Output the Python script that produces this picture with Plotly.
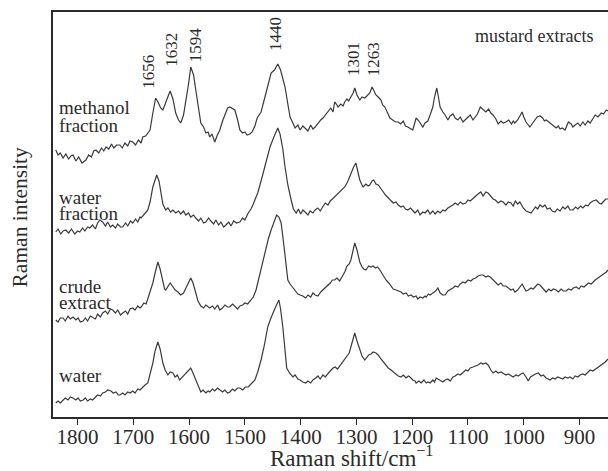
import plotly.graph_objects as go

# ---- data (wavenumber / cm^-1, offset intensity a.u.) ----
methanol_x = [1839, 1835, 1831, 1826, 1821, 1816, 1812, 1808, 1803, 1798, 1792, 1785, 1780, 1775, 1771, 1767,
              1762, 1757, 1753, 1749, 1744, 1739, 1735, 1730, 1724, 1720, 1715, 1710, 1706, 1701, 1696, 1691,
              1686, 1683, 1678, 1674, 1670, 1665, 1660, 1655, 1651, 1647, 1641, 1634, 1629, 1624, 1619, 1615,
              1610, 1606, 1601, 1597, 1592, 1588, 1583, 1579, 1574, 1570, 1566, 1563, 1559, 1554, 1550, 1545,
              1540, 1536, 1531, 1527, 1522, 1518, 1513, 1509, 1504, 1500, 1496, 1491, 1487, 1482, 1478, 1471,
              1464, 1458, 1453, 1447, 1441, 1436, 1432, 1428, 1423, 1419, 1414, 1410, 1405, 1401, 1396, 1392,
              1387, 1382, 1378, 1374, 1369, 1364, 1360, 1355, 1351, 1346, 1342, 1339, 1336, 1333, 1328, 1324,
              1321, 1317, 1314, 1310, 1306, 1303, 1299, 1294, 1290, 1285, 1281, 1276, 1272, 1268, 1265, 1261,
              1256, 1253, 1249, 1244, 1240, 1235, 1230, 1225, 1221, 1216, 1212, 1208, 1203, 1199, 1196, 1193,
              1188, 1184, 1181, 1177, 1172, 1168, 1163, 1160, 1156, 1153, 1150, 1145, 1141, 1136, 1132, 1127,
              1123, 1118, 1114, 1109, 1105, 1100, 1096, 1091, 1087, 1083, 1078, 1073, 1068, 1063, 1059, 1055,
              1050, 1046, 1041, 1037, 1032, 1027, 1022, 1019, 1016, 1011, 1007, 1003, 1000, 996, 992, 989,
              984, 980, 976, 971, 966, 963, 960, 955, 951, 947, 942, 938, 935, 931, 926, 923,
              920, 915, 912, 908, 903, 899, 894, 890, 885, 881, 876, 872, 867, 861, 857, 852, 849]
methanol_y = [267, 262, 264, 259, 263, 258, 261, 262, 256, 260, 254, 257, 262, 260, 266, 267,
              264, 269, 266, 270, 268, 273, 269, 272, 272, 269, 274, 271, 276, 275, 272, 277,
              274, 280, 281, 284, 287, 304, 319, 314, 309, 307, 316, 326, 318, 304, 297, 294,
              302, 314, 333, 350, 342, 327, 308, 294, 290, 284, 285, 280, 283, 275, 281, 287,
              296, 302, 309, 310, 308, 307, 297, 287, 284, 285, 282, 283, 285, 291, 299, 305,
              320, 334, 344, 347, 353, 347, 338, 330, 313, 300, 294, 289, 292, 287, 291, 289,
              286, 292, 288, 290, 294, 297, 299, 303, 305, 309, 305, 315, 313, 310, 313, 311,
              315, 318, 316, 320, 324, 329, 322, 317, 320, 319, 321, 324, 330, 325, 322, 320,
              317, 312, 310, 304, 299, 297, 295, 295, 293, 296, 291, 290, 288, 287, 293, 299,
              296, 292, 290, 294, 296, 302, 310, 320, 329, 320, 310, 305, 302, 297, 301, 303,
              299, 297, 300, 295, 297, 299, 302, 297, 300, 303, 310, 307, 305, 308, 304, 302,
              298, 293, 296, 294, 295, 297, 293, 296, 294, 297, 301, 305, 300, 295, 292, 290,
              294, 297, 300, 301, 299, 296, 297, 295, 293, 291, 289, 291, 288, 289, 287, 291,
              295, 293, 290, 292, 294, 291, 295, 292, 296, 294, 298, 302, 300, 304, 303, 307, 306]

waterfrac_x = [1839, 1835, 1830, 1826, 1821, 1816, 1811, 1805, 1800, 1796, 1791, 1787, 1782, 1778, 1773, 1768,
               1764, 1760, 1755, 1750, 1746, 1741, 1737, 1732, 1728, 1723, 1719, 1714, 1710, 1705, 1701, 1696,
               1692, 1688, 1686, 1681, 1677, 1674, 1670, 1665, 1661, 1658, 1654, 1651, 1647, 1642, 1638, 1633,
               1629, 1624, 1619, 1615, 1610, 1606, 1601, 1597, 1592, 1588, 1583, 1579, 1574, 1570, 1565, 1561,
               1556, 1552, 1547, 1543, 1538, 1534, 1529, 1525, 1520, 1515, 1509, 1504, 1500, 1494, 1489, 1485,
               1481, 1477, 1470, 1464, 1459, 1455, 1448, 1441, 1437, 1432, 1428, 1423, 1417, 1413, 1408, 1404,
               1400, 1396, 1392, 1387, 1383, 1378, 1374, 1369, 1365, 1360, 1356, 1351, 1347, 1343, 1339, 1334,
               1330, 1325, 1321, 1316, 1313, 1310, 1305, 1301, 1298, 1294, 1290, 1288, 1283, 1279, 1276, 1272,
               1269, 1265, 1261, 1258, 1253, 1248, 1243, 1238, 1234, 1229, 1225, 1220, 1216, 1212, 1208, 1203,
               1199, 1195, 1190, 1186, 1181, 1177, 1172, 1168, 1163, 1159, 1154, 1150, 1145, 1141, 1136, 1132,
               1127, 1123, 1118, 1114, 1109, 1104, 1100, 1096, 1091, 1086, 1082, 1077, 1073, 1068, 1064, 1059,
               1055, 1051, 1046, 1041, 1037, 1032, 1028, 1023, 1019, 1015, 1011, 1007, 1004, 1001, 996, 991,
               987, 983, 979, 975, 971, 966, 962, 958, 953, 949, 944, 940, 935, 930, 926, 921,
               917, 912, 907, 903, 898, 894, 889, 885, 881, 876, 870, 865, 861, 858, 853, 849]
waterfrac_y = [185, 188, 183, 186, 187, 184, 188, 183, 186, 185, 189, 186, 190, 189, 192, 188,
               194, 197, 195, 191, 195, 190, 192, 189, 193, 190, 190, 194, 191, 196, 194, 198,
               195, 200, 199, 203, 205, 207, 215, 230, 238, 242, 236, 224, 213, 207, 209, 205,
               207, 204, 206, 203, 206, 202, 204, 200, 202, 199, 196, 199, 194, 195, 199, 196,
               193, 197, 192, 195, 190, 192, 195, 191, 196, 194, 195, 199, 197, 204, 208, 213,
               218, 224, 238, 250, 262, 270, 280, 289, 283, 268, 250, 232, 217, 208, 204, 208,
               203, 207, 205, 202, 206, 204, 207, 209, 206, 210, 214, 212, 216, 218, 220, 223,
               225, 228, 230, 235, 239, 244, 250, 254, 247, 237, 232, 230, 233, 231, 232, 236,
               237, 233, 232, 230, 226, 222, 219, 217, 214, 215, 212, 210, 211, 208, 207, 209,
               206, 204, 207, 202, 205, 204, 207, 203, 206, 203, 206, 204, 207, 206, 209, 210,
               212, 214, 212, 215, 213, 214, 217, 216, 219, 221, 223, 225, 221, 225, 224, 220,
               218, 217, 214, 216, 215, 212, 215, 214, 211, 216, 213, 215, 212, 209, 206, 205,
               204, 207, 210, 208, 212, 210, 212, 208, 209, 206, 205, 208, 206, 210, 208, 211,
               207, 207, 210, 208, 211, 209, 212, 211, 214, 216, 217, 214, 213, 215, 218, 218]

crude_x = [1839, 1835, 1831, 1826, 1822, 1817, 1813, 1808, 1803, 1799, 1795, 1790, 1786, 1782, 1777, 1773,
           1768, 1764, 1759, 1755, 1750, 1746, 1741, 1737, 1732, 1728, 1723, 1719, 1714, 1710, 1706, 1701,
           1697, 1692, 1688, 1686, 1681, 1677, 1674, 1670, 1665, 1661, 1656, 1652, 1649, 1647, 1644, 1642,
           1638, 1634, 1630, 1625, 1620, 1615, 1610, 1606, 1601, 1597, 1593, 1588, 1584, 1579, 1574, 1570,
           1566, 1563, 1558, 1554, 1549, 1545, 1540, 1536, 1531, 1527, 1522, 1518, 1513, 1509, 1504, 1500,
           1495, 1489, 1485, 1480, 1476, 1471, 1467, 1462, 1458, 1453, 1448, 1443, 1439, 1435, 1431, 1428,
           1423, 1419, 1414, 1409, 1405, 1401, 1396, 1391, 1387, 1382, 1378, 1374, 1369, 1364, 1360, 1356,
           1351, 1347, 1343, 1339, 1335, 1330, 1325, 1321, 1317, 1313, 1310, 1306, 1303, 1299, 1294, 1290,
           1287, 1283, 1278, 1274, 1270, 1266, 1262, 1258, 1254, 1249, 1247, 1242, 1238, 1234, 1229, 1225,
           1220, 1216, 1211, 1207, 1202, 1198, 1193, 1190, 1186, 1181, 1177, 1175, 1171, 1168, 1163, 1158,
           1154, 1150, 1145, 1141, 1136, 1132, 1127, 1123, 1118, 1114, 1109, 1105, 1100, 1095, 1091, 1086,
           1082, 1077, 1073, 1068, 1064, 1060, 1055, 1050, 1046, 1041, 1037, 1032, 1028, 1023, 1019, 1016,
           1011, 1007, 1003, 1000, 996, 992, 987, 983, 979, 975, 971, 966, 962, 960, 955, 951,
           947, 942, 938, 933, 929, 924, 920, 915, 911, 906, 901, 897, 892, 888, 884, 879,
           875, 872, 867, 861, 857, 852, 849]
crude_y = [97, 95, 99, 99, 96, 101, 98, 100, 97, 99, 95, 96, 99, 96, 101, 100,
           98, 103, 100, 104, 106, 103, 108, 107, 104, 107, 102, 104, 106, 103, 108, 109,
           107, 111, 109, 110, 114, 113, 118, 124, 134, 144, 155, 148, 140, 134, 128, 127,
           131, 134, 131, 127, 125, 122, 124, 129, 134, 139, 134, 125, 116, 111, 109, 112,
           110, 109, 111, 108, 112, 107, 109, 112, 110, 110, 113, 111, 108, 111, 112, 114,
           113, 117, 120, 127, 136, 147, 158, 170, 178, 187, 195, 202, 200, 194, 176, 160,
           137, 133, 129, 126, 123, 122, 121, 119, 122, 120, 124, 122, 121, 125, 127, 129,
           132, 134, 137, 137, 139, 136, 141, 145, 151, 153, 157, 166, 174, 167, 155, 150,
           148, 147, 151, 150, 151, 149, 150, 147, 143, 139, 137, 134, 131, 128, 127, 126,
           125, 123, 124, 121, 122, 120, 121, 118, 120, 119, 121, 120, 123, 122, 124, 126,
           129, 124, 122, 122, 126, 127, 129, 131, 130, 133, 135, 134, 137, 136, 138, 139,
           141, 142, 142, 140, 141, 140, 137, 134, 132, 134, 131, 131, 129, 127, 128, 125,
           127, 130, 133, 130, 126, 127, 129, 128, 131, 133, 132, 129, 127, 125, 128, 126,
           128, 127, 125, 128, 126, 126, 128, 127, 129, 130, 128, 131, 130, 132, 134, 133,
           136, 137, 139, 142, 143, 145, 147]

water_x = [1839, 1835, 1831, 1826, 1822, 1817, 1813, 1808, 1803, 1799, 1795, 1790, 1786, 1782, 1777, 1773,
           1768, 1764, 1759, 1755, 1750, 1746, 1740, 1736, 1731, 1727, 1724, 1719, 1715, 1710, 1706, 1701,
           1697, 1692, 1688, 1683, 1679, 1674, 1670, 1665, 1661, 1656, 1652, 1649, 1647, 1643, 1638, 1634,
           1629, 1625, 1621, 1617, 1612, 1608, 1603, 1597, 1593, 1588, 1584, 1579, 1575, 1570, 1566, 1563,
           1558, 1554, 1549, 1545, 1540, 1536, 1531, 1527, 1522, 1518, 1513, 1509, 1504, 1499, 1494, 1489,
           1485, 1482, 1477, 1471, 1465, 1459, 1454, 1450, 1445, 1439, 1436, 1432, 1428, 1425, 1420, 1414,
           1410, 1405, 1401, 1396, 1391, 1387, 1382, 1378, 1373, 1369, 1365, 1360, 1356, 1351, 1347, 1342,
           1338, 1334, 1330, 1325, 1321, 1317, 1313, 1310, 1306, 1303, 1299, 1294, 1290, 1285, 1281, 1278,
           1274, 1270, 1265, 1261, 1256, 1252, 1247, 1243, 1238, 1233, 1229, 1225, 1220, 1216, 1211, 1207,
           1204, 1199, 1195, 1193, 1188, 1184, 1179, 1175, 1172, 1168, 1163, 1160, 1157, 1152, 1148, 1145,
           1141, 1136, 1132, 1127, 1123, 1118, 1114, 1109, 1104, 1100, 1096, 1091, 1086, 1082, 1077, 1073,
           1068, 1064, 1059, 1055, 1050, 1046, 1041, 1037, 1032, 1028, 1023, 1019, 1014, 1010, 1005, 1001,
           996, 992, 988, 983, 979, 974, 969, 965, 960, 956, 953, 948, 944, 939, 935, 930,
           926, 921, 917, 912, 908, 903, 899, 894, 890, 885, 881, 876, 871, 867, 862, 858, 854, 849]
water_y = [14, 16, 14, 17, 19, 17, 20, 19, 17, 19, 16, 17, 19, 16, 18, 17,
           20, 22, 21, 24, 25, 27, 26, 24, 25, 22, 22, 24, 22, 25, 24, 26,
           24, 28, 27, 30, 32, 34, 42, 54, 66, 75, 68, 60, 54, 47, 42, 45,
           44, 40, 42, 37, 40, 42, 45, 49, 44, 37, 30, 25, 27, 24, 26, 25,
           28, 26, 29, 27, 25, 27, 24, 25, 28, 26, 29, 29, 27, 30, 30, 33,
           35, 37, 45, 57, 72, 90, 98, 104, 110, 117, 108, 90, 68, 49, 44, 40,
           42, 38, 37, 35, 34, 36, 34, 37, 39, 41, 38, 42, 40, 44, 46, 49,
           50, 48, 51, 54, 57, 60, 64, 70, 78, 84, 76, 67, 61, 57, 60, 62,
           63, 65, 64, 62, 58, 55, 52, 49, 47, 45, 43, 41, 40, 42, 39, 41,
           40, 37, 36, 34, 36, 34, 37, 34, 35, 34, 37, 35, 39, 37, 36, 35,
           37, 38, 36, 40, 41, 43, 42, 45, 47, 46, 49, 50, 51, 52, 54, 53,
           54, 52, 47, 44, 46, 44, 45, 44, 42, 43, 41, 40, 42, 41, 43, 44,
           40, 36, 40, 42, 43, 44, 41, 42, 39, 38, 37, 39, 38, 40, 39, 38,
           40, 39, 40, 38, 41, 40, 42, 43, 42, 45, 47, 46, 48, 49, 51, 53, 55, 58]

series = [
    ("methanol fraction", methanol_x, methanol_y),
    ("water fraction", waterfrac_x, waterfrac_y),
    ("crude extract", crude_x, crude_y),
    ("water", water_x, water_y),
]

# trace labels: (text line, wavenumber at left edge, intensity)
trace_labels = [
    ("methanol", 1836, 310), ("fraction", 1836, 292),
    ("water", 1836, 220), ("fraction", 1836, 204),
    ("crude", 1836, 131), ("extract", 1836, 115),
    ("water", 1836, 42),
]

# peak labels: (label, wavenumber of label centre, intensity of label centre)
peak_labels = [
    ("1656", 1674, 345),
    ("1632", 1633, 367),
    ("1594", 1589, 372),
    ("1440", 1446, 383),
    ("1301", 1306, 358),
    ("1263", 1270, 358),
]

x_ticks = [1800, 1700, 1600, 1500, 1400, 1300, 1200, 1100, 1000, 900]

FONT = "Liberation Serif"
INK = "#2b2b2b"

fig = go.Figure()
for name, xs, ys in series:
    fig.add_trace(go.Scatter(x=xs, y=ys, mode="lines", name=name,
                             line=dict(color="#3a3a3a", width=1.2), showlegend=False))

for txt, x, y in trace_labels:
    fig.add_annotation(x=x, y=y, text=txt, showarrow=False, xanchor="left", yanchor="middle",
                       align="left", font=dict(family=FONT, size=19, color=INK))

for txt, x, y in peak_labels:
    fig.add_annotation(x=x, y=y, text=txt, showarrow=False, textangle=-90,
                       xanchor="center", yanchor="middle",
                       font=dict(family=FONT, size=17, color=INK))

fig.add_annotation(x=0.977, y=0.94, xref="paper", yref="paper", text="mustard extracts",
                   showarrow=False, xanchor="right", yanchor="middle",
                   font=dict(family=FONT, size=18, color=INK))

# axis titles
fig.add_annotation(x=0.538, y=0, xref="paper", yref="paper", yshift=-39,
                   text="Raman shift/cm<sup>\u22121</sup>", showarrow=False,
                   xanchor="center", yanchor="middle",
                   font=dict(family=FONT, size=23, color=INK))
fig.add_annotation(x=0, y=0.5, xref="paper", yref="paper", xshift=-34, yshift=-3,
                   text="Raman intensity", showarrow=False, textangle=-90,
                   xanchor="center", yanchor="middle",
                   font=dict(family=FONT, size=21.5, color=INK))

fig.update_layout(
    width=608, height=471,
    margin=dict(l=53, r=0, t=12, b=54),
    paper_bgcolor="white", plot_bgcolor="white",
    font=dict(family=FONT, color=INK),
    xaxis=dict(range=[1844, 849], tickvals=x_ticks, ticks="outside", ticklen=6, tickwidth=1.3,
               tickcolor=INK, showline=True, linecolor=INK, linewidth=2, mirror=True,
               showgrid=False, zeroline=False, automargin=False, ticklabelstandoff=-6,
               tickfont=dict(family=FONT, size=21, color=INK)),
    yaxis=dict(range=[0, 405], showticklabels=False, ticks="", showline=True, linecolor=INK,
               linewidth=2, showgrid=False, zeroline=False, automargin=False),
)

fig.write_html("out.html", config={"displayModeBar": False},
               post_script="document.body.style.margin='0';document.body.style.overflow='hidden';")
